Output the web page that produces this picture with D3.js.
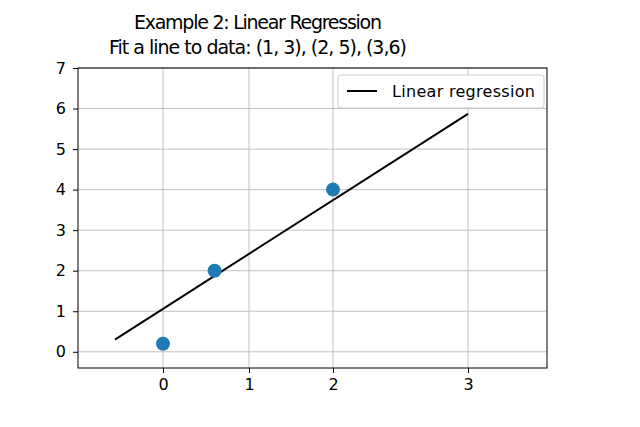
<!DOCTYPE html>
<html><head><meta charset="utf-8">
<script src="https://cdn.jsdelivr.net/npm/d3@7"></script>
<style>body{margin:0;background:#fff}</style></head>
<body><svg id="c" width="640" height="427"></svg>
<script>
const title1 = "Example 2: Linear Regression";
const title2 = "Fit a line to data: (1, 3), (2, 5), (3,6)";
const xTicks = [0, 1, 2, 3];
const yTicks = [0, 1, 2, 3, 4, 5, 6, 7];
const pointsX = [0, 0.6, 2];
const pointsY = [0.2, 2, 4];
const lineX = [-0.56, 3];
const lineY = [0.3, 5.87];
const legendLabel = "Linear regression";

const svg = d3.select("#c");
const L = 78, R = 547, T = 68, B = 368;
// uneven tick spacing as in the reference
const x = d3.scaleLinear().domain([-0.99, 0, 1, 2, 3, 3.585]).range([L, 163, 249, 333, 468, R]);
const y = d3.scaleLinear().domain([-0.4, 7]).range([B, T]);
const font = "DejaVu Sans, sans-serif";

const g = svg.append("g");
g.selectAll(".gx").data(xTicks).join("line").attr("x1", d => x(d)).attr("x2", d => x(d))
  .attr("y1", T).attr("y2", B).attr("stroke", "#b0b0b0").attr("stroke-width", 0.8);
g.selectAll(".gy").data(yTicks).join("line").attr("y1", d => y(d)).attr("y2", d => y(d))
  .attr("x1", L).attr("x2", R).attr("stroke", "#b0b0b0").attr("stroke-width", 0.8);

const xa = svg.append("g").attr("transform", `translate(0,${B})`)
  .call(d3.axisBottom(x).tickValues(xTicks).tickFormat(d3.format("d")).tickSize(5).tickPadding(6));
const ya = svg.append("g").attr("transform", `translate(${L},0)`)
  .call(d3.axisLeft(y).tickValues(yTicks).tickFormat(d3.format("d")).tickSize(5).tickPadding(7));
[xa, ya].forEach(a => { a.select(".domain").remove(); a.selectAll("text").attr("font-size", 16).attr("font-family", font).attr("fill", "#000"); a.selectAll("line").attr("stroke", "#000"); });

svg.append("rect").attr("x", L).attr("y", T).attr("width", R - L).attr("height", B - T)
  .attr("fill", "none").attr("stroke", "#000").attr("stroke-width", 1);

svg.append("path").datum(lineX.map((v, i) => [v, lineY[i]]))
  .attr("d", d3.line().x(d => x(d[0])).y(d => y(d[1])))
  .attr("stroke", "#000").attr("stroke-width", 2).attr("fill", "none");

svg.selectAll(".pt").data(pointsX.map((v, i) => [v, pointsY[i]])).join("circle")
  .attr("cx", d => x(d[0])).attr("cy", d => y(d[1])).attr("r", 7).attr("fill", "#1f7bb4");

svg.append("text").attr("x", 258).attr("y", 29).attr("text-anchor", "middle").attr("font-size", 19).attr("font-family", font).attr("textLength", 248).text(title1);
svg.append("text").attr("x", 258).attr("y", 54).attr("text-anchor", "middle").attr("font-size", 19).attr("font-family", font).attr("textLength", 298).text(title2);

const lg = svg.append("g");
lg.append("rect").attr("x", 338).attr("y", 75).attr("width", 206).attr("height", 33).attr("rx", 3)
  .attr("fill", "#fff").attr("stroke", "#ccc");
lg.append("line").attr("x1", 347).attr("x2", 377).attr("y1", 91).attr("y2", 91).attr("stroke", "#000").attr("stroke-width", 2);
lg.append("text").attr("x", 392).attr("y", 97).attr("font-size", 16).attr("font-family", font).attr("textLength", 143).text(legendLabel);
</script></body></html>
